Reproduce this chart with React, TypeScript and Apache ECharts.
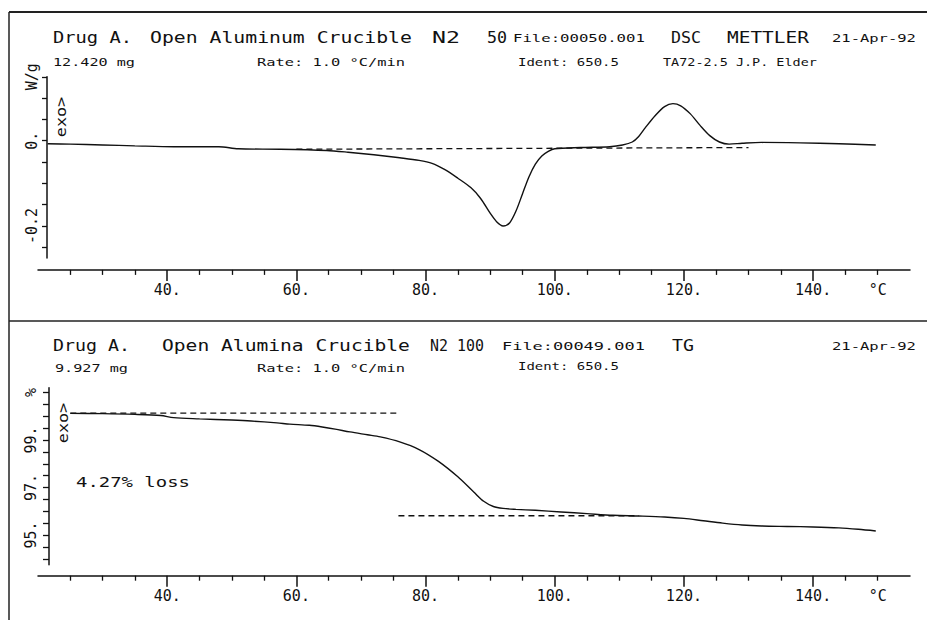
import React, { useEffect, useRef } from "react";
import * as echarts from "echarts";

// ---------- DATA ----------
// DSC (top panel): temperature (°C) and heat flow (W/g)
const dscTemps = [21.5, 25, 30, 35, 41, 48, 51, 57.5, 64.7, 68, 72, 76, 79, 81, 83, 85, 87, 88.5, 90, 91, 92, 93, 94, 95, 96, 97, 98, 99, 100, 104, 108.5, 110.5, 112, 113, 114, 115.5, 117, 118.3, 119.5, 121, 122.5, 124, 125.5, 127, 129, 132, 138, 144, 149.7];
const dscValues = [-0.007, -0.008, -0.01, -0.012, -0.014, -0.014, -0.019, -0.02, -0.023, -0.027, -0.033, -0.04, -0.046, -0.053, -0.068, -0.088, -0.11, -0.135, -0.17, -0.19, -0.2, -0.193, -0.165, -0.125, -0.085, -0.055, -0.036, -0.025, -0.019, -0.016, -0.014, -0.01, -0.003, 0.01, 0.03, 0.058, 0.08, 0.087, 0.082, 0.063, 0.036, 0.012, -0.003, -0.008, -0.006, -0.004, -0.005, -0.007, -0.01];
const dscBaselineTemps = [60, 130];
const dscBaselineValues = [-0.02, -0.016];

// TG (bottom panel): temperature (°C) and mass (%)
const tgTemps = [25, 30, 35, 39, 41, 45, 50, 53, 57, 59, 62, 64, 66, 68.3, 71, 73, 76, 79, 82, 85, 87.5, 89, 90.5, 92, 94, 97, 101, 105, 109, 113, 117, 120, 123, 126, 129, 132, 136, 140, 144, 147, 149.7];
const tgValues = [100.12, 100.11, 100.08, 100.03, 99.94, 99.89, 99.84, 99.8, 99.72, 99.67, 99.62, 99.55, 99.46, 99.34, 99.22, 99.13, 98.92, 98.6, 98.1, 97.45, 96.8, 96.42, 96.2, 96.12, 96.08, 96.04, 95.97, 95.9, 95.83, 95.8, 95.76, 95.7, 95.6, 95.5, 95.42, 95.38, 95.36, 95.34, 95.3, 95.24, 95.17];
const tgUpperTemps = [25, 75.5];
const tgUpperValues = [100.13, 100.13];
const tgLowerTemps = [75.8, 113];
const tgLowerValues = [95.81, 95.81];

// Axis ticks / labels
const xMajorTicks = [40, 60, 80, 100, 120, 140];
const xMinorTicks = [25, 30, 35, 45, 50, 55, 65, 70, 75, 85, 90, 95, 105, 110, 115, 125, 130, 135, 145, 150];
const xLabelValues = [40, 60, 80, 100, 120, 140, 150];
const xUnitValue = 150;
const xUnit = "°C";

const dscTicks = [0.15, 0.1, 0.05, 0, -0.05, -0.1, -0.15, -0.2, -0.25];
const dscLabelValues = [0.15, 0, -0.2];
const dscLabelTexts = ["W/g", "0.", "-0.2"];

const tgTicks = [101, 100.5, 100, 99.5, 99, 98.5, 98, 97.5, 97, 96.5, 96, 95.5, 95, 94.5, 94];
const tgLabelValues = [101, 99, 97, 95];
const tgLabelTexts = ["%", "99.", "97.", "95."];

// Header texts
const topLine1 = ["Drug A.", "Open Aluminum Crucible", "N2", "50", "File:00050.001", "DSC", "METTLER", "21-Apr-92"];
const topLine2 = ["12.420 mg", "Rate: 1.0 °C/min", "Ident: 650.5", "TA72-2.5 J.P. Elder"];
const botLine1 = ["Drug A.", "Open Alumina Crucible", "N2 100", "File:00049.001", "TG", "21-Apr-92"];
const botLine2 = ["9.927 mg", "Rate: 1.0 °C/min", "Ident: 650.5"];
const exoLabel = "exo>";
const lossLabel = "4.27% loss";

// ---------- HELPERS ----------
const FONT = '"DejaVu Sans Mono", monospace';
const INK = "#111";
const zip = (a: number[], b: number[]) => a.map((t, i) => [t, b[i]]);

function labelFor(values: number[], texts: string[]) {
  return (v: number) => {
    const i = values.findIndex((x) => Math.abs(x - v) < 1e-6);
    return i >= 0 ? texts[i] : "";
  };
}

function xAxesFor(gridIndex: number, offset: number) {
  const base = {
    type: "value",
    gridIndex,
    min: 20,
    max: 155,
    position: "bottom",
    offset,
    splitLine: { show: false },
  };
  return [
    {
      ...base,
      axisLine: { show: true, onZero: false, lineStyle: { color: INK, width: 1.5 } },
      axisTick: { show: true, customValues: xMajorTicks, length: 11, lineStyle: { color: INK, width: 1.5 } },
      axisLabel: {
        show: true,
        customValues: xLabelValues,
        margin: 13,
        color: INK,
        fontFamily: FONT,
        fontSize: 15,
        formatter: (v: number) => (v === xUnitValue ? xUnit : v + "."),
      },
    },
    {
      ...base,
      axisLine: { show: false, onZero: false },
      axisTick: { show: true, customValues: xMinorTicks, length: 5, lineStyle: { color: INK, width: 1.3 } },
      axisLabel: { show: false },
    },
  ];
}

type TextSpec = [string, number, number, number, number]; // text, x, yCenter, width, fontSize

function headerText([text, x, y, w, fs]: TextSpec) {
  const natural = text.length * 0.602 * fs;
  return {
    type: "text",
    x,
    y,
    scaleX: w / natural,
    silent: true,
    style: {
      text,
      fontFamily: FONT,
      fontSize: fs,
      fill: INK,
      align: "left",
      textAlign: "left",
      verticalAlign: "middle",
      textVerticalAlign: "middle",
    },
  };
}

export default function App() {
  const ref = useRef<HTMLDivElement>(null);

  useEffect(() => {
    if (!ref.current) return;
    const chart = echarts.init(ref.current, undefined, { renderer: "svg" });

    const texts: TextSpec[] = [
      [topLine1[0], 53, 38, 79, 15],
      [topLine1[1], 150, 38, 262, 15],
      [topLine1[2], 432, 38, 28, 15],
      [topLine1[3], 487, 38, 20, 15],
      [topLine1[4], 513, 38, 132, 11],
      [topLine1[5], 671, 38, 30, 15],
      [topLine1[6], 727, 38, 82, 15],
      [topLine1[7], 832, 38, 84, 11],
      [topLine2[0], 53, 62, 82, 11],
      [topLine2[1], 257, 62, 148, 11],
      [topLine2[2], 518, 62, 101, 11],
      [topLine2[3], 663, 62, 154, 11],
      [botLine1[0], 53, 346, 77, 15],
      [botLine1[1], 162, 346, 248, 15],
      [botLine1[2], 430, 346, 54, 15],
      [botLine1[3], 502, 346, 143, 11],
      [botLine1[4], 672, 346, 22, 15],
      [botLine1[5], 832, 346, 84, 11],
      [botLine2[0], 55, 368, 73, 11],
      [botLine2[1], 257, 368, 148, 11],
      [botLine2[2], 518, 366, 101, 11],
      [lossLabel, 76, 482, 114, 14],
    ];

    const graphic: any[] = [
      { type: "line", silent: true, shape: { x1: 9, y1: 12, x2: 927, y2: 12 }, style: { stroke: "#222", lineWidth: 2 } },
      { type: "line", silent: true, shape: { x1: 9, y1: 12, x2: 9, y2: 620 }, style: { stroke: "#222", lineWidth: 1.5 } },
      { type: "line", silent: true, shape: { x1: 9, y1: 321, x2: 927, y2: 321 }, style: { stroke: "#222", lineWidth: 1.5 } },
      ...texts.map(headerText),
      {
        type: "text", x: 61, y: 117, rotation: Math.PI / 2, scaleX: 1.2, silent: true,
        style: { text: exoLabel, fontFamily: FONT, fontSize: 14, fill: INK, align: "center", textAlign: "center", verticalAlign: "middle", textVerticalAlign: "middle" },
      },
      {
        type: "text", x: 63, y: 423, rotation: Math.PI / 2, scaleX: 1.2, silent: true,
        style: { text: exoLabel, fontFamily: FONT, fontSize: 14, fill: INK, align: "center", textAlign: "center", verticalAlign: "middle", textVerticalAlign: "middle" },
      },
    ];

    const lineStyle = { color: INK, width: 1.4 };
    const dashStyle = { color: INK, width: 1.3, type: [6, 4] };

    chart.setOption({
      animation: false,
      backgroundColor: "#fff",
      grid: [
        { left: 38, right: 17, top: 76.8, height: 181.1 },
        { left: 38, right: 17, top: 387.75, height: 176.95 },
      ],
      xAxis: [...xAxesFor(0, 12), ...xAxesFor(1, 11)],
      yAxis: [
        {
          type: "value", gridIndex: 0, min: -0.275, max: 0.15, position: "left", offset: -9,
          splitLine: { show: false },
          axisLine: { show: true, onZero: false, lineStyle: { color: INK, width: 1.5 } },
          axisTick: { show: true, customValues: dscTicks, length: 5, lineStyle: { color: INK, width: 1.3 } },
          axisLabel: {
            show: true, customValues: dscLabelValues, rotate: 90, margin: 8,
            color: INK, fontFamily: FONT, fontSize: 15,
            formatter: labelFor(dscLabelValues, dscLabelTexts),
          },
        },
        {
          type: "value", gridIndex: 1, min: 93.75, max: 101.2, position: "left", offset: -11,
          splitLine: { show: false },
          axisLine: { show: true, onZero: false, lineStyle: { color: INK, width: 1.5 } },
          axisTick: { show: true, customValues: tgTicks, length: 6, lineStyle: { color: INK, width: 1.3 } },
          axisLabel: {
            show: true, customValues: tgLabelValues, rotate: 90, margin: 11,
            color: INK, fontFamily: FONT, fontSize: 15,
            formatter: labelFor(tgLabelValues, tgLabelTexts),
          },
        },
      ],
      series: [
        { type: "line", xAxisIndex: 0, yAxisIndex: 0, data: zip(dscTemps, dscValues), symbol: "none", smooth: 0.3, lineStyle },
        { type: "line", xAxisIndex: 0, yAxisIndex: 0, data: zip(dscBaselineTemps, dscBaselineValues), symbol: "none", lineStyle: dashStyle },
        { type: "line", xAxisIndex: 2, yAxisIndex: 1, data: zip(tgTemps, tgValues), symbol: "none", smooth: 0.3, lineStyle },
        { type: "line", xAxisIndex: 2, yAxisIndex: 1, data: zip(tgUpperTemps, tgUpperValues), symbol: "none", lineStyle: dashStyle },
        { type: "line", xAxisIndex: 2, yAxisIndex: 1, data: zip(tgLowerTemps, tgLowerValues), symbol: "none", lineStyle: dashStyle },
      ],
      graphic,
    });

    return () => chart.dispose();
  }, []);

  return (
    <div
      ref={ref}
      style={{ position: "fixed", left: 0, top: 0, width: 927, height: 620, background: "#fff" }}
    />
  );
}
